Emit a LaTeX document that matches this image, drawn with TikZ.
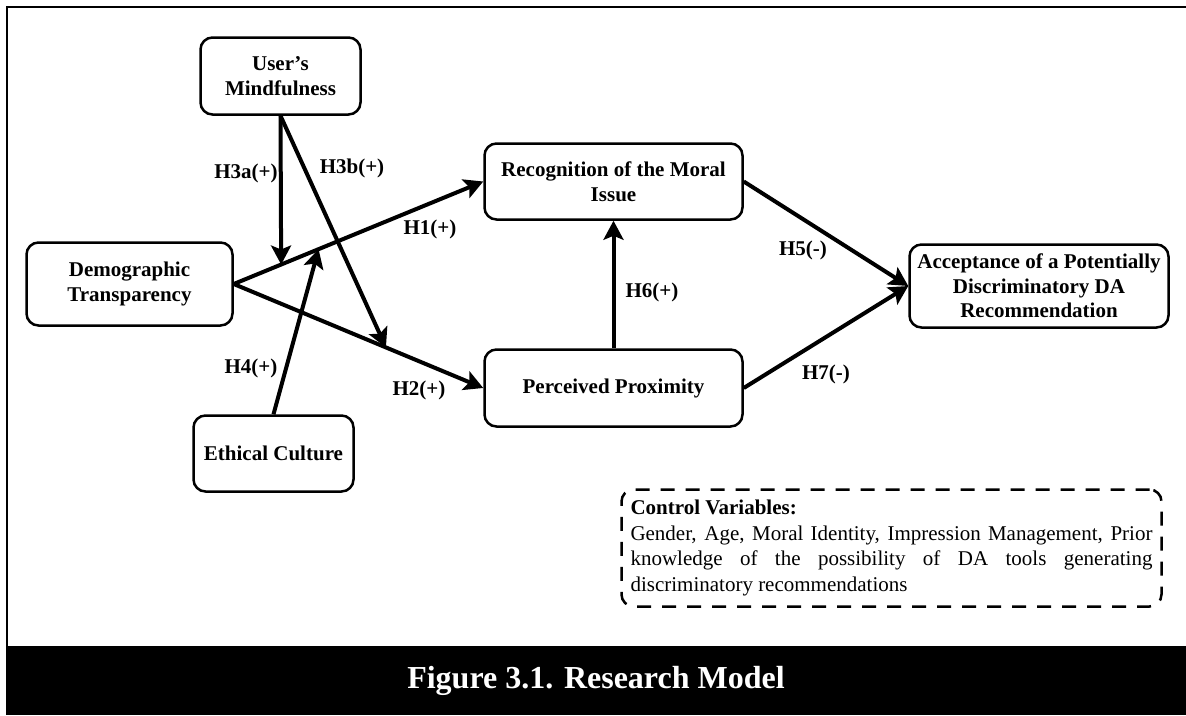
\documentclass[tikz,border=0pt]{standalone}
\usepackage{fontspec}
\setmainfont{Liberation Serif}
\usepackage{tikz}
\usetikzlibrary{arrows.meta,calc}

\tikzset{
	box/.style={draw, line width=2.5pt, rounded corners=12pt, align=center, inner sep=0pt,
		font=\bfseries\fontsize{21}{24.5}\selectfont},
	hyp/.style={line width=4pt, -{Stealth[length=19pt,width=20pt,inset=4pt]}},
	lab/.style={font=\bfseries\fontsize{21}{24}\selectfont}
}

\begin{document}
\begin{tikzpicture}[x=1pt,y=-1pt]

\useasboundingbox (0,0) rectangle (1186,715);

\draw[line width=2pt] (1186,7) -- (7,7) -- (7,646);
\fill (6,646) rectangle (1186,715);
\node[text=white, font=\bfseries\fontsize{32}{36}\selectfont] (title) at (596,681) {Figure 3.1. Research Model};

\node[box, minimum width=160pt, minimum height=77pt] (mind) at (280.5,76) {User's\\Mindfulness};
\node[box, minimum width=206pt, minimum height=83pt] (demo) at (129.5,284) {Demographic\\Transparency};
\node[box, minimum width=160pt, minimum height=76pt] (ethic) at (273.5,453.5) {Ethical Culture};
\node[box, minimum width=258pt, minimum height=76pt] (recog) at (613.5,181.5) {Recognition of the Moral\\Issue};
\node[box, minimum width=258pt, minimum height=77pt] (proxi) at (613.5,388) {Perceived Proximity};
\node[box, minimum width=259pt, minimum height=83pt] (accept) at (1039,286) {Acceptance of a Potentially\\Discriminatory DA\\Recommendation};

\node[draw, line width=2.5pt, dash pattern=on 14pt off 11pt, rounded corners=12pt,
	minimum width=540pt, minimum height=117pt, inner xsep=9pt, text width=522pt, align=justify,
	font=\fontsize{21}{25.5}\selectfont] (control) at (891.5,548)
	{\tolerance=10000\hbadness=10000\textbf{Control Variables:}\\
	Gender, Age, Moral Identity, Impression Management, Prior\linebreak
	knowledge of the possibility of DA tools generating\linebreak
	discriminatory recommendations};

\coordinate (h3a) at ($(demo.east)!0.19!(recog.west)$);
\coordinate (h4) at ($(demo.east)!0.34!(recog.west)$);
\coordinate (h3b) at ($(demo.east)!0.61!(proxi.west)$);

\foreach \from/\to in {demo.east/recog.west, demo.east/proxi.west, mind.south/h3a, mind.south/h3b, ethic.north/h4, proxi.north/recog.south, recog.east/accept.west, proxi.east/accept.west}
	\draw[hyp] (\from) -- (\to);

\node[lab] (l1) at (430,229) {H1(+)};
\node[lab] (l2) at (419,390) {H2(+)};
\node[lab] (l3a) at (246,173) {H3a(+)};
\node[lab] (l3b) at (352,168) {H3b(+)};
\node[lab] (l4) at (251,368) {H4(+)};
\node[lab] (l5) at (803,250) {H5(-)};
\node[lab] (l6) at (652,292) {H6(+)};
\node[lab] (l7) at (826,374) {H7(-)};

\end{tikzpicture}
\end{document}
